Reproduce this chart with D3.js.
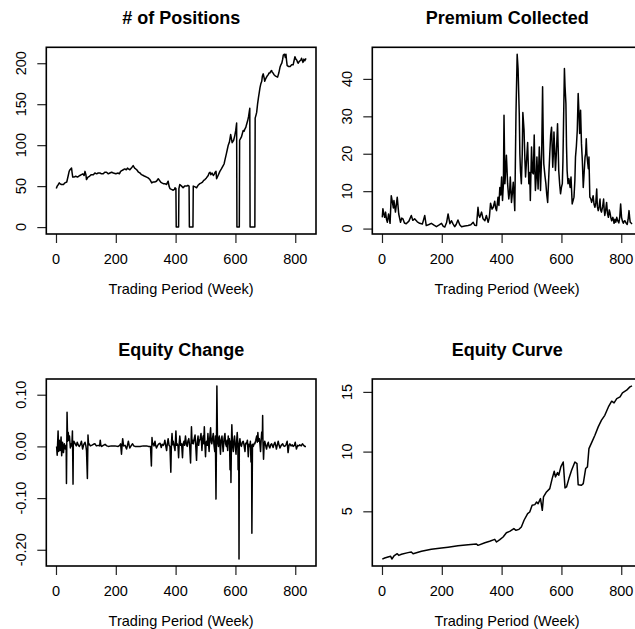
<!DOCTYPE html>
<html>
<head>
<meta charset="utf-8">
<script src="https://cdn.jsdelivr.net/npm/d3@7/dist/d3.min.js"></script>
<style>
  body { margin: 0; background: #fff; }
  svg { display: block; }
  text { font-family: "Liberation Sans", Arial, Helvetica, sans-serif; fill: #000; }
</style>
</head>
<body>
<script>
// weekly series as [week, value]
var positions = [[1,47],[4,50],[8,52],[11,54],[13,53],[18,52],[25,52],[30,54],[36,55],[41,63],[44,68],[47,70],[52,72],[54,66],[56,61],[60,61],[66,62],[72,61],[80,63],[85,64],[90,65],[94,63],[97,68],[100,64],[102,58],[107,61],[112,62],[118,64],[125,64],[130,66],[136,65],[141,66],[147,66],[152,65],[158,65],[163,67],[169,67],[175,65],[180,66],[186,67],[192,66],[200,65],[208,66],[212,65],[216,68],[220,69],[225,70],[230,71],[235,70],[239,72],[242,71],[247,70],[252,72],[258,75],[263,72],[270,70],[276,67],[281,66],[286,64],[292,63],[297,62],[303,61],[308,60],[314,58],[317,56],[320,54],[325,55],[330,55],[336,56],[342,59],[346,57],[350,55],[354,54],[359,53],[364,53],[370,52],[372,54],[375,56],[378,50],[381,47],[386,46],[392,45],[396,46],[398,48],[401,47],[402,0],[410,0],[411,47],[414,52],[417,51],[420,50],[425,48],[430,50],[437,50],[441,51],[445,50],[446,0],[458,0],[459,50],[465,49],[470,48],[475,51],[481,53],[486,54],[490,55],[494,57],[498,58],[503,60],[509,63],[512,66],[515,67],[518,64],[522,66],[526,63],[530,65],[532,67],[535,68],[537,59],[542,63],[548,68],[553,71],[559,75],[562,77],[565,82],[570,90],[573,95],[576,100],[580,104],[584,113],[587,107],[589,103],[594,106],[598,112],[601,118],[604,127],[605,0],[613,0],[614,106],[617,108],[620,110],[623,114],[626,118],[629,117],[632,120],[635,122],[637,125],[641,130],[644,135],[646,140],[648,145],[649,0],[665,0],[666,133],[669,137],[671,140],[674,150],[677,158],[680,165],[682,170],[685,175],[688,178],[690,184],[693,187],[696,182],[698,178],[701,181],[704,183],[707,185],[710,186],[712,188],[715,188],[718,190],[721,191],[723,189],[726,188],[729,186],[732,185],[736,184],[741,183],[745,188],[749,195],[752,198],[755,200],[758,205],[760,210],[764,211],[767,207],[769,211],[771,203],[773,197],[778,196],[783,196],[788,198],[793,198],[796,203],[799,208],[802,205],[805,204],[808,201],[810,200],[813,202],[816,203],[819,204],[821,206],[824,203],[826,201],[829,205],[832,203],[836,206]];

var premium = [[1,3],[3,5.3],[6,4],[9,3],[12,4.4],[15,2.5],[18,1.7],[22,3.9],[27,1.4],[31,8.8],[35,7],[38,5.5],[40,7.5],[45,4.4],[51,8.4],[56,3.9],[62,1.7],[66,2.8],[70,2.6],[75,1.5],[81,1.3],[90,2],[98,3.5],[103,2.2],[109,2.6],[118,1.8],[126,1.4],[135,1.2],[143,3.5],[148,0.8],[157,1.1],[165,1.4],[174,0.9],[182,0.5],[190,0.9],[199,1.4],[205,0.6],[210,0.4],[216,1.6],[221,3.9],[227,1.3],[232,2.1],[238,1.2],[243,0.5],[248,1.1],[254,2.3],[260,1.0],[266,0.5],[277,0.7],[288,0.8],[297,1.0],[305,1.7],[310,0.9],[316,0.8],[321,5.7],[324,3.5],[327,3],[333,4.4],[338,2.6],[344,2.1],[349,3.5],[355,1.7],[359,3.0],[363,6.8],[368,5.2],[372,5.7],[377,7.3],[380,5.5],[383,4.8],[388,8.4],[391,6.2],[394,11],[397,9],[400,13.8],[403,7.5],[406,12],[408,30.3],[411,12],[413,14.6],[416,19.6],[418,16],[420,12],[424,7.9],[427,10],[429,13.8],[433,7],[436,9.5],[439,12.4],[442,8],[444,4.8],[448,30.7],[452,46.6],[455,42.8],[459,30.7],[461,20],[463,15.5],[466,12],[469,20],[471,31],[475,26.3],[478,18],[480,13.8],[484,19],[487,23],[491,12],[494,15],[496,7.5],[500,21.8],[503,15],[506,14.6],[509,25],[511,16],[513,10.2],[516,14],[518,19.1],[522,10.6],[526,21.8],[528,18],[530,10.2],[534,20],[537,37.9],[539,25],[541,17.3],[545,14],[548,12],[551,9],[554,7],[558,14.6],[561,20],[564,25],[567,27.1],[571,16.4],[573,20],[575,25.8],[578,20],[580,15.5],[583,20],[587,28],[589,22],[591,15.5],[594,12],[597,9.3],[600,11],[603,12],[605,18],[607,28],[610,42.8],[612,38],[615,33.4],[617,22],[619,15.5],[622,12],[625,13.3],[629,11],[632,13.8],[636,6.6],[639,7.5],[642,8.4],[645,13],[647,19.1],[650,22],[653,26.3],[656,36.1],[659,30],[661,25.4],[664,31.6],[667,22.7],[670,18],[673,11],[676,15],[679,19.1],[681,20],[683,24],[685,20],[687,18.2],[690,16],[692,19.1],[695,8.4],[698,8],[701,7],[704,8],[706,8.8],[709,6.5],[712,5.7],[715,7],[718,10.6],[720,6],[723,4.8],[726,6],[729,7.9],[731,5],[734,4.4],[738,6],[741,7.9],[743,5],[745,3.5],[748,5],[751,7],[754,4],[757,3],[760,5],[762,4.4],[765,3],[768,2.1],[772,3],[776,1.4],[779,2.5],[782,1.7],[785,3],[788,2.1],[792,1.5],[795,3],[798,6.6],[801,3],[804,2],[807,1.4],[810,2],[812,2.1],[816,1.5],[820,1.1],[823,2.5],[826,4.8],[828,3],[830,1.7],[833,1.5],[836,1.25]];

var equityChange = [[2,0],[4,-0.017],[7,0.03],[9,-0.01],[11,0.012],[14,-0.008],[17,0.018],[19,-0.018],[22,0.008],[25,-0.012],[28,0.005],[31,-0.005],[34,0.002],[35,-0.072],[37,0.066],[39,0.01],[41,0.027],[43,0.012],[45,0.02],[48,-0.003],[51,0.005],[53,0.001],[55,0.03],[57,-0.073],[58,0.004],[60,0.01],[65,0.004],[68,0.001],[71,0.008],[75,0.002],[78,0],[82,0.004],[85,0.01],[89,-0.005],[93,0.004],[97,0.008],[100,0.001],[102,-0.008],[105,-0.062],[107,0.022],[109,0.003],[111,0.005],[115,0.001],[119,0.002],[125,0.004],[130,0.005],[135,0.001],[141,0.002],[146,0.001],[148,0.012],[150,0.002],[153,0],[158,0.002],[164,0.004],[170,0.001],[175,0],[185,0.001],[197,0.001],[208,0],[213,0.002],[216,0.005],[219,-0.015],[221,0.002],[223,0.015],[226,0.001],[231,0.002],[236,-0.005],[239,0.002],[242,0.01],[245,0.001],[247,-0.003],[252,0.002],[256,0.005],[260,0.001],[264,0],[275,0],[281,0],[292,0.001],[303,0.001],[310,0],[316,0],[319,-0.038],[321,0.017],[323,0.003],[325,0.006],[328,0.001],[331,0.01],[333,0.002],[336,-0.003],[340,0.002],[344,0.005],[348,0.006],[352,-0.002],[355,0.004],[359,0.002],[362,0.006],[364,0.012],[367,0.001],[370,-0.008],[372,0.004],[375,0.015],[378,0.002],[381,0],[384,-0.05],[386,0.006],[388,0.025],[390,0.003],[392,0.01],[395,0.001],[398,-0.008],[401,0.03],[403,0.002],[405,0.005],[408,0.001],[410,-0.022],[412,0.006],[414,0.02],[417,0.002],[420,0.005],[423,-0.022],[425,0.004],[428,0.01],[430,0.002],[433,0.02],[436,0.004],[439,0],[441,0.01],[444,0.015],[447,0.001],[450,-0.032],[453,0.038],[455,0.006],[457,0.012],[459,0.005],[462,0.014],[465,0.022],[467,0.004],[470,-0.027],[472,0.006],[475,0.02],[477,0.002],[479,0.01],[482,0.015],[485,0.025],[488,-0.008],[490,0.012],[492,0.02],[494,0.005],[496,0.038],[498,0.004],[500,-0.02],[502,0.008],[504,0.01],[506,0.002],[508,0.025],[510,0.006],[512,-0.01],[514,0.015],[517,0.036],[519,0.008],[521,0.005],[524,0.018],[526,0.025],[528,0.004],[531,-0.01],[533,0.02],[535,-0.102],[537,0.04],[538,0.117],[540,0.01],[543,0],[544,0.015],[546,0.02],[548,0.003],[550,-0.015],[552,0.012],[555,0.02],[557,0.004],[559,-0.01],[562,0.015],[565,0.025],[567,0.005],[570,0],[572,0.012],[574,-0.008],[576,0.02],[578,0.005],[580,0.015],[582,-0.045],[584,0.01],[585,-0.07],[587,0.02],[588,0.042],[590,0.005],[593,-0.01],[595,0.012],[597,0.02],[599,0.004],[602,-0.015],[604,0.01],[606,0.027],[608,0.006],[609,-0.045],[611,0.005],[612,-0.218],[613,0.005],[615,0.015],[617,0.004],[620,0],[623,0.008],[626,0.01],[629,0.002],[632,-0.01],[634,0.006],[637,0.005],[640,0.012],[643,-0.02],[645,0.004],[648,0],[650,0.01],[652,-0.03],[654,0.002],[655,-0.168],[657,0.004],[660,0],[663,0.006],[665,0.005],[668,0.012],[671,0.02],[673,0.008],[675,0.027],[677,0.01],[680,0.015],[682,0.004],[684,-0.01],[686,0.012],[688,0.028],[690,0.015],[691,0.06],[692,0.01],[694,-0.025],[696,0.004],[698,0.01],[701,0.002],[704,-0.005],[707,0.004],[710,0.008],[712,0.001],[715,-0.003],[718,0.003],[721,0.005],[724,0.001],[726,-0.002],[729,0.004],[732,0.008],[735,0.001],[737,-0.005],[740,0.003],[743,0.01],[746,0.002],[749,-0.003],[753,0.002],[758,0.005],[761,0.001],[765,0],[769,0.003],[773,0.01],[776,-0.012],[779,0.002],[782,0.005],[786,0.001],[790,0.003],[793,0],[797,0.002],[800,0.008],[802,0.001],[804,-0.005],[808,0.002],[812,0.001],[815,0.003],[820,0.001],[824,0.005],[828,0.002],[832,0],[836,0]];

var equityCurve = [[1,1.0],[9,1.09],[20,1.17],[29,1.23],[33,1.0],[40,1.26],[51,1.45],[56,1.31],[65,1.4],[87,1.54],[98,1.6],[104,1.45],[132,1.65],[165,1.82],[199,1.93],[221,2.0],[254,2.12],[288,2.2],[316,2.26],[321,2.15],[344,2.37],[360,2.49],[377,2.65],[383,2.43],[394,2.63],[405,2.85],[416,3.21],[427,3.32],[441,3.55],[448,3.41],[458,3.49],[466,3.69],[475,4.25],[487,4.8],[494,4.94],[502,5.5],[511,5.56],[517,5.78],[522,5.64],[530,6.06],[536,5.08],[540,6.2],[550,6.62],[561,6.9],[569,7.74],[576,8.35],[580,7.88],[587,8.24],[591,8.02],[598,8.72],[606,9.13],[612,6.96],[617,7.04],[625,7.74],[634,8.44],[645,9.13],[652,8.99],[656,7.23],[667,7.18],[673,7.32],[681,8.58],[687,8.72],[692,10.25],[701,10.75],[712,11.37],[723,12.07],[734,12.63],[745,13.04],[757,13.74],[768,14.22],[776,14.08],[785,14.44],[796,14.58],[804,14.92],[818,15.14],[829,15.42],[836,15.5]];

var titles = ["# of Positions", "Premium Collected", "Equity Change", "Equity Curve"];
var xLabel = "Trading Period (Week)";
var xTicks = [0, 200, 400, 600, 800];
var posTicks = [0, 50, 100, 150, 200];
var premTicks = [0, 10, 20, 30, 40];
var chgTicks = [-0.2, -0.1, 0, 0.1];
var chgTickLabels = ["-0.20", "-0.10", "0.00", "0.10"];
var eqTicks = [5, 10, 15];

var WIDTH = 635, HEIGHT = 629;
var FONT = 14.5;
var TICK = 9;

// plot boxes (the right column runs past the window edge, as in the picture)
var COLS = [{x0: 46.3, x1: 316}, {x0: 372.3, x1: 642}];
var ROWS = [{y0: 47.3, y1: 234}, {y0: 379, y1: 566}];

var svg = d3.select('body').append('svg')
    .attr('width', WIDTH)
    .attr('height', HEIGHT);

svg.append('rect').attr('width', WIDTH).attr('height', HEIGHT).attr('fill', '#fff');

// R style range: data extent widened by 4% each side
function padded(ext) {
    var r = ext[1] - ext[0];
    return [ext[0] - 0.04 * r, ext[1] + 0.04 * r];
}

var weekExtent = d3.extent(positions, function (d) { return d[0]; });

function drawPanel(data, col, row, title, yTicks, yLabels) {
    var box = {x0: COLS[col].x0, x1: COLS[col].x1, y0: ROWS[row].y0, y1: ROWS[row].y1};
    var x = d3.scaleLinear().domain(padded(weekExtent)).range([box.x0, box.x1]);
    var y = d3.scaleLinear().domain(padded(d3.extent(data, function (d) { return d[1]; }))).range([box.y1, box.y0]);
    var g = svg.append('g');

    var line = d3.line()
        .x(function (d) { return x(d[0]); })
        .y(function (d) { return y(d[1]); });

    g.append('path')
        .datum(data)
        .attr('d', line)
        .attr('fill', 'none')
        .attr('stroke', '#000')
        .attr('stroke-width', 1.5)
        .attr('stroke-linejoin', 'round');

    // x axis ticks
    g.append('g')
        .attr('transform', 'translate(0,' + box.y1 + ')')
        .call(d3.axisBottom(x).tickValues(xTicks).tickSize(TICK).tickSizeOuter(0).tickFormat(''))
        .call(function (a) { a.select('.domain').remove(); })
        .selectAll('line').attr('stroke', '#222').attr('stroke-width', 1.2);

    g.selectAll('.xlab')
        .data(xTicks)
        .enter().append('text')
        .attr('x', function (d) { return x(d); })
        .attr('y', box.y1 + 29.5)
        .attr('text-anchor', 'middle')
        .style('font-size', FONT + 'px')
        .text(function (d) { return d; });

    // y axis ticks, labels turned like R's las=0
    g.append('g')
        .attr('transform', 'translate(' + box.x0 + ',0)')
        .call(d3.axisLeft(y).tickValues(yTicks).tickSize(TICK).tickSizeOuter(0).tickFormat(''))
        .call(function (a) { a.select('.domain').remove(); })
        .selectAll('line').attr('stroke', '#222').attr('stroke-width', 1.2);

    g.selectAll('.ylab')
        .data(yTicks)
        .enter().append('text')
        .attr('transform', function (d) { return 'translate(' + (box.x0 - 20) + ',' + y(d) + ') rotate(-90)'; })
        .attr('text-anchor', 'middle')
        .style('font-size', FONT + 'px')
        .text(function (d, i) { return yLabels ? yLabels[i] : d; });

    g.append('rect')
        .attr('x', box.x0).attr('y', box.y0)
        .attr('width', box.x1 - box.x0).attr('height', box.y1 - box.y0)
        .attr('fill', 'none').attr('stroke', '#000').attr('stroke-width', 1.6);

    g.append('text')
        .attr('x', (box.x0 + box.x1) / 2)
        .attr('y', box.y0 - 23.5)
        .attr('text-anchor', 'middle')
        .style('font-size', '18px')
        .style('font-weight', 'bold')
        .text(title);

    g.append('text')
        .attr('x', (box.x0 + box.x1) / 2)
        .attr('y', box.y1 + 60)
        .attr('text-anchor', 'middle')
        .style('font-size', FONT + 'px')
        .text(xLabel);
}

drawPanel(positions, 0, 0, titles[0], posTicks);
drawPanel(premium, 1, 0, titles[1], premTicks);
drawPanel(equityChange, 0, 1, titles[2], chgTicks, chgTickLabels);
drawPanel(equityCurve, 1, 1, titles[3], eqTicks);
</script>
</body>
</html>
